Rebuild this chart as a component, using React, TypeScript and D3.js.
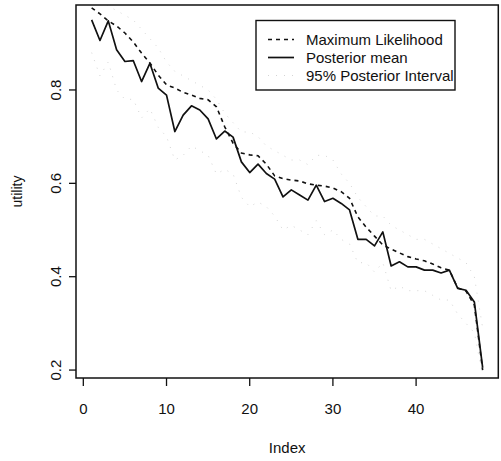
import React from "react";
import * as d3 from "d3";

const indexVals = [1,2,3,4,5,6,7,8,9,10,11,12,13,14,15,16,17,18,19,20,21,22,23,24,25,26,27,28,29,30,31,32,33,34,35,36,37,38,39,40,41,42,43,44,45,46,47,48];

const maxLik = [0.976,0.963,0.948,0.937,0.922,0.903,0.879,0.858,0.832,0.811,0.804,0.795,0.789,0.782,0.779,0.764,0.721,0.686,0.665,0.661,0.659,0.641,0.616,0.610,0.607,0.605,0.599,0.596,0.594,0.590,0.582,0.568,0.528,0.506,0.487,0.468,0.459,0.451,0.443,0.438,0.434,0.427,0.419,0.414,0.376,0.369,0.339,0.200];

const postMean = [0.950,0.906,0.948,0.886,0.861,0.863,0.818,0.857,0.804,0.789,0.711,0.746,0.766,0.757,0.738,0.695,0.712,0.699,0.646,0.623,0.641,0.621,0.609,0.571,0.586,0.575,0.564,0.596,0.561,0.568,0.557,0.543,0.480,0.480,0.466,0.496,0.423,0.432,0.421,0.421,0.414,0.414,0.408,0.414,0.375,0.371,0.346,0.205];

const upperInt = [0.99,0.99,0.98,0.97,0.96,0.95,0.93,0.91,0.89,0.86,0.84,0.83,0.82,0.81,0.80,0.78,0.75,0.73,0.71,0.71,0.70,0.68,0.67,0.66,0.65,0.65,0.64,0.66,0.66,0.65,0.62,0.60,0.57,0.55,0.53,0.53,0.51,0.50,0.49,0.48,0.48,0.47,0.46,0.45,0.44,0.43,0.40,0.29];

const lowerInt = [0.88,0.83,0.86,0.80,0.78,0.78,0.74,0.76,0.72,0.70,0.65,0.66,0.68,0.67,0.66,0.62,0.63,0.62,0.57,0.55,0.56,0.55,0.53,0.50,0.51,0.50,0.49,0.52,0.49,0.50,0.48,0.47,0.43,0.43,0.41,0.43,0.37,0.38,0.37,0.37,0.37,0.36,0.35,0.35,0.32,0.30,0.28,0.19];

const xTicks = [0, 10, 20, 30, 40];
const yTicks = [0.2, 0.4, 0.6, 0.8];
const legendLabels = ["Maximum Likelihood", "Posterior mean", "95% Posterior Interval"];

const W = 501, H = 461;
const L = 76, R = 498.3, T = 5, B = 378;
const FONT = "'Liberation Sans', Arial, Helvetica, sans-serif";
const DOT = "#d4d4d4";

export default function App() {
  const x = d3.scaleLinear().domain([-0.88, 49.88]).range([L, R]);
  const y = d3.scaleLinear().domain([0.183, 0.982]).range([B, T]);
  const mk = (vals: number[]) =>
    d3.line<number>().x((_, i) => x(indexVals[i])).y((v) => y(v))(vals) || "";

  return (
    <svg width={W} height={H} style={{ position: "absolute", left: 0, top: 0, background: "#fff" }}>
      <defs>
        <clipPath id="plotClip">
          <rect x={L} y={T} width={R - L} height={B - T} />
        </clipPath>
      </defs>
      <rect x={0} y={0} width={W} height={H} fill="#fff" />
      <g clipPath="url(#plotClip)" fill="none">
        <path d={mk(upperInt)} stroke={DOT} strokeWidth={1} strokeDasharray="1 7" />
        <path d={mk(lowerInt)} stroke={DOT} strokeWidth={1} strokeDasharray="1 7" />
        <path d={mk(maxLik)} stroke="#111" strokeWidth={1.6} strokeDasharray="4 4" />
        <path d={mk(postMean)} stroke="#111" strokeWidth={1.7} strokeLinejoin="round" />
      </g>
      <rect x={L} y={T} width={R - L} height={B - T} fill="none" stroke="#111" strokeWidth={1.5} />
      {xTicks.map((t) => (
        <g key={"x" + t}>
          <line x1={x(t)} x2={x(t)} y1={B} y2={B + 8} stroke="#111" strokeWidth={1.3} />
          <text x={x(t)} y={414} textAnchor="middle" fontFamily={FONT} fontSize={15} fill="#111">{t}</text>
        </g>
      ))}
      {yTicks.map((t) => (
        <g key={"y" + t}>
          <line x1={L} x2={L - 7} y1={y(t)} y2={y(t)} stroke="#111" strokeWidth={1.3} />
          <text transform={`translate(61,${y(t)}) rotate(-90)`} textAnchor="middle" fontFamily={FONT} fontSize={15} fill="#111">{t.toFixed(1)}</text>
        </g>
      ))}
      <text x={(L + R) / 2} y={453} textAnchor="middle" fontFamily={FONT} fontSize={15} fill="#111">Index</text>
      <text transform={`translate(22,${(T + B) / 2}) rotate(-90)`} textAnchor="middle" fontFamily={FONT} fontSize={14} fill="#111">utility</text>
      <rect x={256} y={20.5} width={199} height={69.5} fill="#fff" stroke="#111" strokeWidth={1.4} />
      <line x1={268} x2={294} y1={39.5} y2={39.5} stroke="#111" strokeWidth={1.6} strokeDasharray="4 4" />
      <line x1={268} x2={294} y1={57.5} y2={57.5} stroke="#111" strokeWidth={1.7} />
      <line x1={268} x2={294} y1={75.5} y2={75.5} stroke={DOT} strokeWidth={1} strokeDasharray="1 7" />
      {legendLabels.map((lab, i) => (
        <text key={lab} x={306} y={45 + i * 18} fontFamily={FONT} fontSize={15} fill="#111">{lab}</text>
      ))}
    </svg>
  );
}
